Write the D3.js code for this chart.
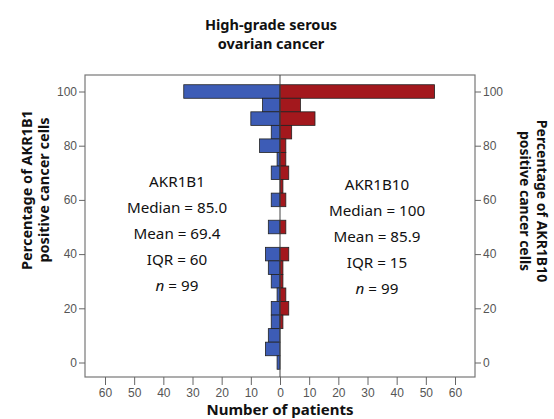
<!DOCTYPE html>
<html><head><meta charset="utf-8">
<script src="https://cdn.jsdelivr.net/npm/d3@7"></script>
<style>body{margin:0;background:#fff}svg{display:block}</style>
</head><body>
<script>
const bins = [100,95,90,85,80,75,70,65,60,55,50,45,40,35,30,25,20,15,10,5,0];
const akr1b1 = [33,6,10,3,7,1,3,0,3,0,4,0,5,4,3,1,3,3,4,5,1];
const akr1b10 = [53,7,12,4,2,2,3,1,2,0,2,0,3,1,1,2,3,1,0,0,0];
const xTicks = [0,10,20,30,40,50,60];
const yTicks = [0,20,40,60,80,100];
const leftStats = ["AKR1B1","Median = 85.0","Mean = 69.4","IQR = 60","n = 99"];
const rightStats = ["AKR1B10","Median = 100","Mean = 85.9","IQR = 15","n = 99"];

const W=554,H=419;
const svg=d3.select("body").append("svg").attr("width",W).attr("height",H);
const frame={l:85,r:475,t:75,b:377};
const cx=280;
const xL=d3.scaleLinear().domain([0,60]).range([cx,cx-175]);
const xR=d3.scaleLinear().domain([0,60]).range([cx,cx+175]);
const y=d3.scaleLinear().domain([0,100]).range([362.5,91.5]);
const half=2.5;
const blue="#3d5cb6", red="#a3181d";

svg.append("rect").attr("x",frame.l).attr("y",frame.t).attr("width",frame.r-frame.l).attr("height",frame.b-frame.t)
  .attr("fill","none").attr("stroke","#777").attr("stroke-width",1.2);

const data=bins.map((b,i)=>({b,l:akr1b1[i],r:akr1b10[i]}));
svg.append("g").selectAll("rect").data(data.filter(d=>d.l>0)).join("rect")
  .attr("x",d=>xL(d.l)).attr("y",d=>y(d.b+half)).attr("width",d=>cx-xL(d.l)).attr("height",d=>y(d.b-half)-y(d.b+half))
  .attr("fill",blue).attr("stroke","#222").attr("stroke-width",0.8);
svg.append("g").selectAll("rect").data(data.filter(d=>d.r>0)).join("rect")
  .attr("x",cx).attr("y",d=>y(d.b+half)).attr("width",d=>xR(d.r)-cx).attr("height",d=>y(d.b-half)-y(d.b+half))
  .attr("fill",red).attr("stroke","#222").attr("stroke-width",0.8);

svg.append("line").attr("x1",cx).attr("x2",cx).attr("y1",frame.t).attr("y2",frame.b).attr("stroke","#444").attr("stroke-width",1);

function styleAxis(g){
  g.select(".domain").remove();
  g.selectAll(".tick line").attr("stroke","#666");
  g.selectAll(".tick text").attr("fill","#555").style("font-family","Liberation Sans, Arial, sans-serif").style("font-size","12px");
}
svg.append("g").attr("transform",`translate(${frame.l},0)`).call(d3.axisLeft(y).tickValues(yTicks).tickSize(6).tickPadding(2)).call(styleAxis);
svg.append("g").attr("transform",`translate(${frame.r},0)`).call(d3.axisRight(y).tickValues(yTicks).tickSize(6).tickPadding(2)).call(styleAxis);
svg.append("g").attr("transform",`translate(0,${frame.b})`).call(d3.axisBottom(xL).tickValues(xTicks.slice(1)).tickSize(8).tickPadding(3)).call(styleAxis);
svg.append("g").attr("transform",`translate(0,${frame.b})`).call(d3.axisBottom(xR).tickValues(xTicks).tickSize(8).tickPadding(3)).call(styleAxis);

const boldFont="Noto Sans, Open Sans, sans-serif";
const t=svg.append("text").attr("text-anchor","middle").style("font-family",boldFont).style("font-weight","bold").style("font-size","14.5px").attr("fill","#111");
t.append("tspan").attr("x",271).attr("y",30).text("High-grade serous");
t.append("tspan").attr("x",271).attr("y",49).text("ovarian cancer");

svg.append("text").attr("x",cx).attr("y",415).attr("text-anchor","middle").style("font-family",boldFont).style("font-weight","bold").style("font-size","15px").attr("fill","#111").text("Number of patients");

const yl=svg.append("text").attr("transform","translate(32,190) rotate(-90)").attr("text-anchor","middle").style("font-family",boldFont).style("font-weight","bold").style("font-size","14.5px").attr("fill","#111");
yl.append("tspan").attr("x",0).attr("y",0).text("Percentage of AKR1B1");
yl.append("tspan").attr("x",0).attr("y",17).text("positive cancer cells");
const yr=svg.append("text").attr("transform","translate(537,201) rotate(90)").attr("text-anchor","middle").style("font-family",boldFont).style("font-weight","bold").style("font-size","14px").attr("fill","#111");
yr.append("tspan").attr("x",0).attr("y",0).text("Percentage of AKR1B10");
yr.append("tspan").attr("x",0).attr("y",17).text("positive cancer cells");

function stats(arr,x,y0){
  arr.forEach((s,i)=>{
    const tx=svg.append("text").attr("x",x).attr("y",y0+i*26).attr("text-anchor","middle")
      .style("font-family","Noto Sans, Open Sans, sans-serif").style("font-size","15.2px").attr("fill","#111");
    if(s.startsWith("n = ")){
      tx.append("tspan").style("font-style","italic").text("n");
      tx.append("tspan").text(s.slice(1));
    } else tx.text(s);
  });
}
stats(leftStats,177,187);
stats(rightStats,377,190);
</script>
</body></html>
